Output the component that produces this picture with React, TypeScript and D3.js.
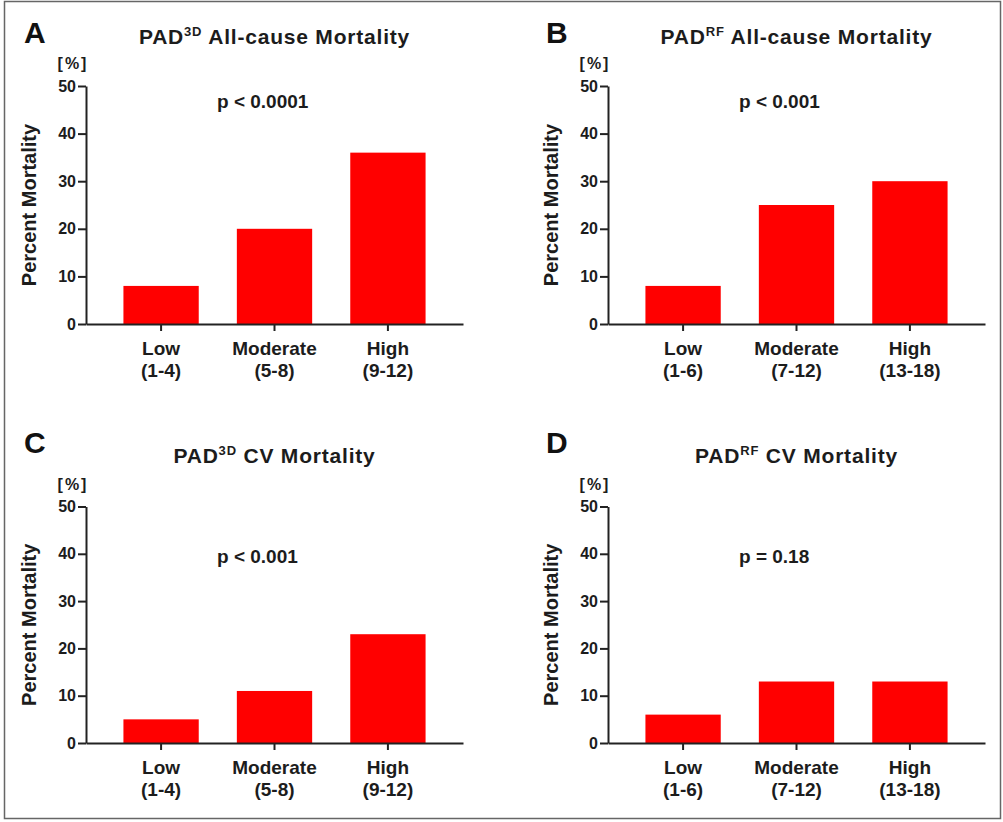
import React, { useEffect, useRef } from 'react';
import * as d3 from 'd3';

// panel texts
const panelLetters = ['A', 'B', 'C', 'D'];
const titleSup = ['3D', 'RF', '3D', 'RF'];
const titleRest = ['All-cause Mortality', 'All-cause Mortality', 'CV Mortality', 'CV Mortality'];
const pLabels = ['p < 0.0001', 'p < 0.001', 'p < 0.001', 'p = 0.18'];
const pLabelLevel = [45.4, 45.4, 38, 38];

// categories
const riskLevels = ['Low', 'Moderate', 'High'];
const ranges3D = ['(1-4)', '(5-8)', '(9-12)'];
const rangesRF = ['(1-6)', '(7-12)', '(13-18)'];

// percent mortality values
const allCause3D = [8, 20, 36];
const allCauseRF = [8, 25, 30];
const cv3D = [5, 11, 23];
const cvRF = [6, 13, 13];

const yTicks = [0, 10, 20, 30, 40, 50];

const W = 1003, H = 822;
const font = "'Liberation Sans', Arial, Helvetica, sans-serif";
const ink = '#1c1c1c';

function App() {
    const ref = useRef<SVGSVGElement>(null);

    useEffect(() => {
        const svg = d3.select(ref.current);
        svg.selectAll('*').remove();

        svg.append('rect')
            .attr('x', 4.5).attr('y', 1.5)
            .attr('width', 996).attr('height', 817)
            .attr('fill', 'white')
            .attr('stroke', '#666')
            .attr('stroke-width', 1.5);

        const panels = [
            { values: allCause3D, ranges: ranges3D },
            { values: allCauseRF, ranges: rangesRF },
            { values: cv3D, ranges: ranges3D },
            { values: cvRF, ranges: rangesRF },
        ];

        const axisXs = [86, 608];
        const zeroYs = [324, 743];
        const topYs = [86, 506.5];
        const letterYs = [43, 453];
        const titleYs = [44, 463];
        const axisLen = 377;

        panels.forEach((p, i) => {
            const col = i % 2, row = Math.floor(i / 2);
            const ax = axisXs[col];

            const y = d3.scaleLinear().domain([0, 50]).range([zeroYs[row], topYs[row]]);
            const x = d3.scaleBand()
                .domain(riskLevels)
                .range([ax, ax + axisLen])
                .paddingInner(0.336)
                .paddingOuter(0.33);

            const g = svg.append('g').attr('font-family', font).attr('font-weight', 'bold');

            // bars
            g.selectAll('.bar')
                .data(p.values)
                .enter().append('rect')
                .attr('class', 'bar')
                .attr('x', (_, j) => x(riskLevels[j])!)
                .attr('width', x.bandwidth())
                .attr('y', d => y(d))
                .attr('height', d => y(0) - y(d))
                .attr('fill', '#ff0000');

            // y axis
            const ya = g.append('g')
                .attr('transform', 'translate(' + ax + ',0)')
                .call(d3.axisLeft(y).tickValues(yTicks).tickSize(8).tickSizeOuter(0).tickPadding(2));
            ya.attr('font-size', 16).attr('font-family', font).attr('font-weight', 'bold');
            ya.select('.domain').attr('stroke', '#222').attr('stroke-width', 2);
            ya.selectAll('.tick line').attr('stroke', '#222').attr('stroke-width', 2);
            ya.selectAll('.tick text').attr('fill', ink);

            // x axis
            const xa = g.append('g')
                .attr('transform', 'translate(0,' + y(0) + ')')
                .call(d3.axisBottom(x).tickSize(7).tickSizeOuter(0).tickFormat(() => ''));
            xa.select('.domain').attr('stroke', '#222').attr('stroke-width', 2);
            xa.selectAll('.tick line').attr('stroke', '#222').attr('stroke-width', 2);

            // category labels
            riskLevels.forEach((c, j) => {
                const cx = x(c)! + x.bandwidth() / 2;
                const t = g.append('text')
                    .attr('text-anchor', 'middle')
                    .attr('font-size', 19)
                    .attr('fill', ink);
                t.append('tspan').attr('x', cx).attr('y', y(0) + 31).text(c);
                t.append('tspan').attr('x', cx).attr('y', y(0) + 53).text(p.ranges[j]);
            });

            // y label
            const midY = (y(0) + y(50)) / 2;
            g.append('text')
                .attr('transform', 'translate(' + (ax - 50) + ',' + midY + ') rotate(-90)')
                .attr('text-anchor', 'middle')
                .attr('font-size', 20)
                .attr('fill', ink)
                .text('Percent Mortality');

            // unit
            g.append('text')
                .attr('x', ax - 13)
                .attr('y', y(50) - 17)
                .attr('text-anchor', 'middle')
                .attr('font-size', 16)
                .attr('letter-spacing', 2)
                .attr('fill', ink)
                .text('[%]');

            // panel letter
            g.append('text')
                .attr('x', ax - 62)
                .attr('y', letterYs[row])
                .attr('font-size', 30)
                .attr('fill', '#111')
                .text(panelLetters[i]);

            // title
            const title = g.append('text')
                .attr('x', x(riskLevels[1])! + x.bandwidth() / 2)
                .attr('y', titleYs[row])
                .attr('text-anchor', 'middle')
                .attr('font-size', 21)
                .attr('letter-spacing', 0.8)
                .attr('fill', ink);
            title.append('tspan').text('PAD');
            title.append('tspan').attr('font-size', 13).attr('dy', -8).text(titleSup[i]);
            title.append('tspan').attr('dy', 8).text(' ' + titleRest[i]);

            // p value
            g.append('text')
                .attr('x', ax + 131)
                .attr('y', y(pLabelLevel[i]))
                .attr('font-size', 19)
                .attr('fill', ink)
                .text(pLabels[i]);
        });
    }, []);

    return (
        <svg ref={ref} width={W} height={H}
            style={{ position: 'absolute', left: 0, top: 0, background: 'white' }} />
    );
}

export default App;
